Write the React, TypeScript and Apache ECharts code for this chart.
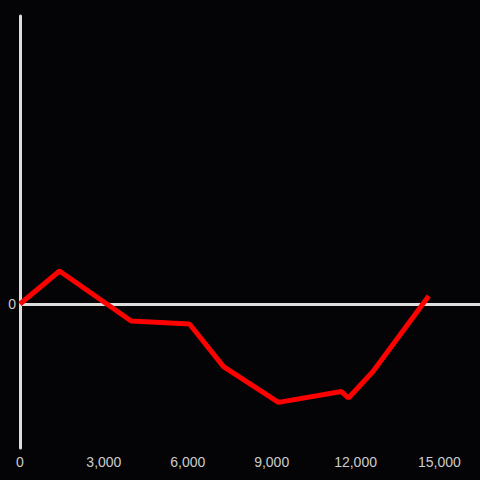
import React, { useEffect, useRef } from "react";
import * as echarts from "echarts";

const xValues = [0, 1412, 3976, 6061, 7277, 9243, 11495, 11745, 12615, 14617];
const yValues = [0, 229, -118, -139, -435, -683, -608, -653, -470, 56];
const xTicks = [0, 3000, 6000, 9000, 12000, 15000];

export default function App() {
  const ref = useRef<HTMLDivElement>(null);
  useEffect(() => {
    if (!ref.current) return;
    const chart = echarts.init(ref.current, null, { renderer: "svg" });
    chart.setOption({
      animation: false,
      backgroundColor: "#040306",
      grid: { left: 20, right: 0, top: 16, bottom: 32 },
      xAxis: {
        type: "value",
        min: 0,
        max: 16450,
        interval: 3000,
        axisLine: { show: false, onZero: false },
        axisTick: { show: false },
        splitLine: { show: false },
        axisLabel: {
          color: "#cccccc",
          fontSize: 14,
          fontFamily: "Liberation Sans",
          margin: 7,
          showMaxLabel: false,
          formatter: (v: number) => (xTicks.includes(v) ? v.toLocaleString("en-US") : ""),
        },
      },
      yAxis: {
        type: "value",
        min: -1000,
        max: 2000,
        interval: 1000,
        axisLine: { show: true, lineStyle: { color: "#dddddd", width: 3 } },
        axisTick: { show: false },
        splitLine: { show: false },
        axisLabel: {
          color: "#cccccc",
          fontSize: 14,
          fontFamily: "Liberation Sans",
          margin: 4,
          formatter: (v: number) => (v === 0 ? "0" : ""),
        },
      },
      series: [
        {
          type: "line",
          data: xValues.map((x, i) => [x, yValues[i]]),
          symbol: "none",
          lineStyle: { color: "#ff0000", width: 5 },
          z: 3,
          markLine: {
            silent: true,
            symbol: "none",
            label: { show: false },
            lineStyle: { color: "#dddddd", width: 3, type: "solid" },
            data: [{ yAxis: 0 }],
            z: 2,
          },
        },
      ],
    });
    return () => chart.dispose();
  }, []);
  return <div ref={ref} style={{ width: 480, height: 480, position: "fixed", left: 0, top: 0 }} />;
}
